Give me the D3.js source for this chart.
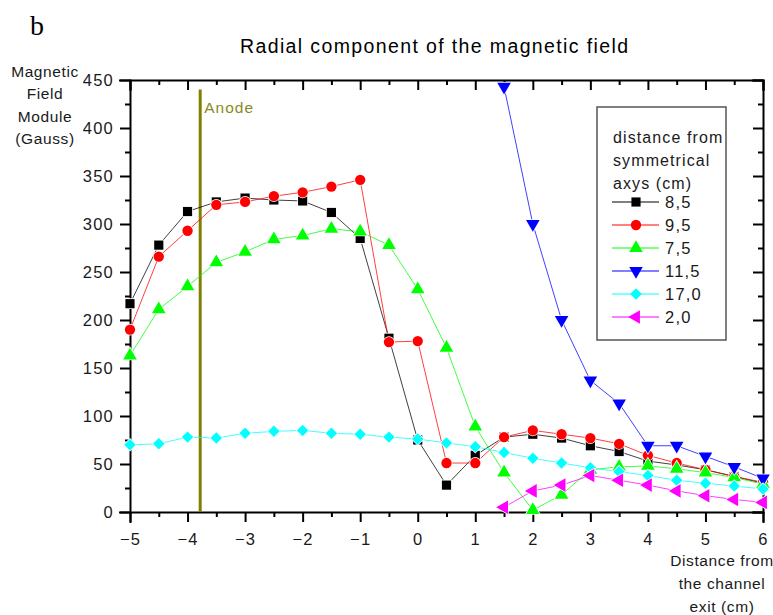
<!DOCTYPE html>
<html>
<head>
<meta charset="utf-8">
<script src="https://cdn.jsdelivr.net/npm/d3@7"></script>
<style>
  body { margin: 0; background: #fff; }
  svg { display: block; font-family: "Liberation Sans", Arial, sans-serif; }
  .axis path, .axis line { stroke: #000; stroke-width: 2; }
  .axis text { fill: #1a1a1a; font-size: 16.5px; letter-spacing: 1.2px; font-family: "Liberation Sans", Arial, sans-serif; }
</style>
</head>
<body>
<div id="chart"></div>
<script>
'use strict';

// distance from the channel exit (cm)
const xs = [-5, -4.5, -4, -3.5, -3, -2.5, -2, -1.5, -1, -0.5, 0, 0.5, 1, 1.5, 2, 2.5, 3, 3.5, 4, 4.5, 5, 5.5, 6];

// field module (Gauss) for each distance from the symmetrical axis
const s85  = [217, 278, 313, 323, 327, 325, 324, 312, 285, 181, 75, 28, 59, 78, 81, 77, 69, 63, 53, 49, 44, 37, 30];
const s95  = [190, 266, 293, 320, 323, 329, 333, 339, 346, 177, 178, 51, 51, 78, 85, 81, 77, 71, 59, 51, 44, 37, 31];
const s75  = [163, 211, 235, 260, 271, 284, 288, 295, 292, 278, 232, 171, 89, 41, 2, 18, 44, 47, 48, 45, 41, 36, 29];
const s115 = [null, null, null, null, null, null, null, null, null, null, null, null, null, 443, 300, 200, 137, 113, 69, 69, 58, 47, 35];
const s170 = [70, 71, 78, 77, 82, 84, 85, 82, 81, 78, 76, 72, 68, 62, 56, 51, 46, 42, 38, 33, 30, 27, 24];
const s20  = [null, null, null, null, null, null, null, null, null, null, null, null, null, 5, 22, 28, 38, 33, 28, 22, 17, 13, 10];

const seriesNames = ['8,5', '9,5', '7,5', '11,5', '17,0', '2,0'];
const seriesValues = [s85, s95, s75, s115, s170, s20];

const yMajorTicks = [0, 50, 100, 150, 200, 250, 300, 350, 400, 450];
const xMajorTicks = [-5, -4, -3, -2, -1, 0, 1, 2, 3, 4, 5, 6];
const anodeX = -3.78;

const colors = ['#000000', '#ff0000', '#00ff00', '#0000ff', '#00ffff', '#ff00ff'];
// symbol type, rotation, area
const markers = [
  {type: d3.symbolSquare, rot: 0, size: 84},
  {type: d3.symbolCircle, rot: 0, size: 84},
  {type: d3.symbolTriangle, rot: 0, size: 80},
  {type: d3.symbolTriangle, rot: 180, size: 80},
  {type: d3.symbolSquare, rot: 45, size: 66},
  {type: d3.symbolTriangle, rot: -90, size: 80}
];

const width = 773, height = 615;
const margin = {left: 130, right: 10, top: 80, bottom: 103};
const plotW = width - margin.left - margin.right;
const plotH = height - margin.top - margin.bottom;

const svg = d3.select('#chart').append('svg')
  .attr('width', width)
  .attr('height', height);

const plot = svg.append('g')
  .attr('transform', `translate(${margin.left}, ${margin.top})`);

const x = d3.scaleLinear().domain([-5, 6]).range([0, plotW]);
const y = d3.scaleLinear().domain([0, 450]).range([plotH, 0]);

const minor = (majors) => majors.slice(0, -1).map((v, i) => (v + majors[i + 1]) / 2);

// axes: outer ticks left/bottom, inward ticks top/right
function addAxis(axisFn, scale, transform, majors, size, labels) {
  const g = plot.append('g').attr('class', 'axis').attr('transform', transform);
  g.call(axisFn(scale).tickValues(majors).tickSize(size).tickPadding(6)
    .tickFormat(labels ? d3.format('d') : ''));
  g.append('g').call(axisFn(scale).tickValues(minor(majors)).tickSize(size / 2).tickFormat(''))
    .select('.domain').remove();
  return g;
}

addAxis(d3.axisLeft, y, 'translate(0,0)', yMajorTicks, 10, true);
addAxis(d3.axisRight, y, `translate(${plotW},0)`, yMajorTicks, -10, false);
addAxis(d3.axisTop, x, 'translate(0,0)', xMajorTicks, -10, false);
const xAxis = addAxis(d3.axisBottom, x, `translate(0,${plotH})`, xMajorTicks, 10, true);
xAxis.selectAll('text').attr('dy', '1.05em');
plot.selectAll('.axis .domain').attr('stroke-linecap', 'square');

// anode
plot.append('line')
  .attr('x1', x(anodeX)).attr('x2', x(anodeX))
  .attr('y1', y(440)).attr('y2', plotH)
  .attr('stroke', '#808000')
  .attr('stroke-width', 3);
plot.append('text')
  .attr('x', x(anodeX) + 4)
  .attr('y', y(416))
  .attr('fill', '#8a8a1c')
  .attr('font-size', 15.5)
  .attr('letter-spacing', 1)
  .text('Anode');

const line = d3.line()
  .defined((d) => d != null)
  .x((d, i) => x(xs[i]))
  .y((d) => y(d));

const symbolPath = (m) => d3.symbol().type(m.type).size(m.size)();

seriesValues.forEach((vals, k) => {
  const g = plot.append('g').attr('class', 'series');
  g.append('path')
    .attr('d', line(vals))
    .attr('fill', 'none')
    .attr('stroke', colors[k])
    .attr('stroke-opacity', 0.75)
    .attr('stroke-width', 1);
});

seriesValues.forEach((vals, k) => {
  const pts = vals.map((v, i) => ({x: xs[i], v: v})).filter((d) => d.v != null);
  plot.append('g').selectAll('path')
    .data(pts)
    .enter().append('path')
      .attr('d', symbolPath(markers[k]))
      .attr('transform', (d) => `translate(${x(d.x)},${y(d.v)}) rotate(${markers[k].rot})`)
      .attr('fill', colors[k])
      .attr('stroke', '#fff')
      .attr('stroke-width', 1.5)
      .attr('paint-order', 'stroke');
});

// legend
const legend = svg.append('g').attr('transform', 'translate(597,107)');
legend.append('rect')
  .attr('width', 129).attr('height', 233)
  .attr('fill', '#fff')
  .attr('stroke', '#555')
  .attr('stroke-width', 1.5);
['distance from', 'symmetrical', 'axys (cm)'].forEach((t, i) => {
  legend.append('text')
    .attr('x', 16).attr('y', 36 + i * 23)
    .attr('font-size', 16).attr('letter-spacing', 1.1)
    .attr('fill', '#1a1a1a')
    .text(t);
});
seriesNames.forEach((name, k) => {
  const row = legend.append('g').attr('transform', `translate(0,${95 + k * 23})`);
  row.append('line')
    .attr('x1', 15).attr('x2', 62)
    .attr('stroke', colors[k]).attr('stroke-width', 1);
  row.append('path')
    .attr('d', symbolPath(markers[k]))
    .attr('transform', `translate(39,0) rotate(${markers[k].rot})`)
    .attr('fill', colors[k]);
  row.append('text')
    .attr('x', 68).attr('y', 0).attr('dy', '0.36em')
    .attr('font-size', 16.5).attr('letter-spacing', 1.2)
    .attr('fill', '#1a1a1a')
    .text(name);
});

// titles
svg.append('text')
  .attr('x', 30).attr('y', 35)
  .attr('font-family', '"Liberation Serif", "Times New Roman", serif')
  .attr('font-size', 28)
  .text('b');

svg.append('text')
  .attr('x', 434).attr('y', 53)
  .attr('text-anchor', 'middle')
  .attr('font-size', 19.5)
  .attr('textLength', 388)
  .attr('lengthAdjust', 'spacing')
  .text('Radial component of the magnetic field');

const yLabel = svg.append('text')
  .attr('text-anchor', 'middle')
  .attr('font-size', 15.5)
  .attr('letter-spacing', 0.6)
  .attr('fill', '#1a1a1a');
['Magnetic', 'Field', 'Module', '(Gauss)'].forEach((t, i) => {
  yLabel.append('tspan').attr('x', 45).attr('y', 77 + i * 22.3).text(t);
});

const xLabel = svg.append('text')
  .attr('text-anchor', 'middle')
  .attr('font-size', 15.5)
  .attr('letter-spacing', 0.6)
  .attr('fill', '#1a1a1a');
['Distance from', 'the channel', 'exit (cm)'].forEach((t, i) => {
  xLabel.append('tspan').attr('x', 722).attr('y', 566 + i * 23).text(t);
});
</script>
</body>
</html>
